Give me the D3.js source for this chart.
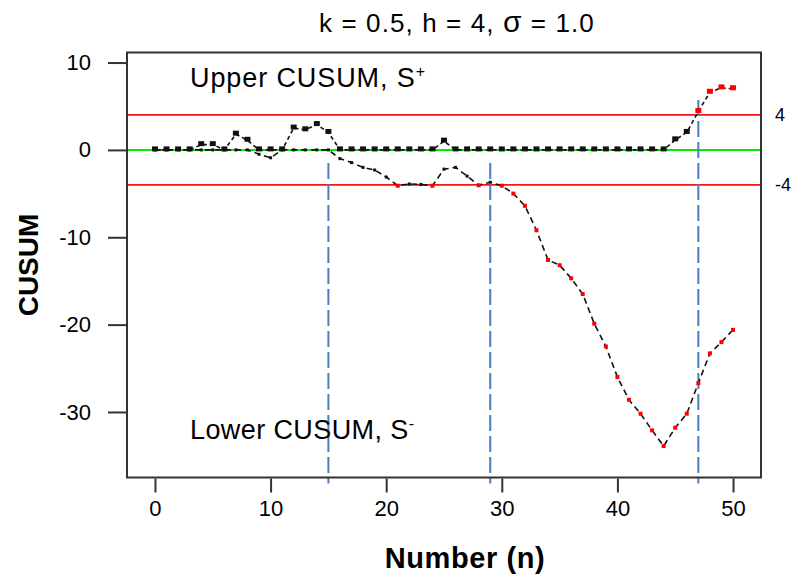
<!DOCTYPE html>
<html>
<head>
<meta charset="utf-8">
<script src="https://cdn.jsdelivr.net/npm/d3@7"></script>
<style>
  body { margin: 0; background: #fff; }
  text { font-family: "Liberation Sans", Arial, sans-serif; fill: #000; }
</style>
</head>
<body>
<div id="chart"></div>
<script>
// sample number n
const sample = [0,1,2,3,4,5,6,7,8,9,10,11,12,13,14,15,16,17,18,19,20,
  21,22,23,24,25,26,27,28,29,30,31,32,33,34,35,36,37,38,39,40,
  41,42,43,44,45,46,47,48,49,50]

// upper CUSUM S+
const upper = [0,0,0,0,0.6,0.6,0,1.8,1.1,0,0,0,2.5,2.3,2.9,2.0,0,0,0,0,0,
  0,0,0,0,1.0,0,0,0,0,0,0,0,0,0,0,0,0,0,0,0,
  0,0,0,0,1.15,2.0,4.4,6.6,7.1,7.0]

// lower CUSUM S- (plotted negative)
const lower = [0,0,0,0,0,0,0,0,0,-0.5,-0.9,0,0,0,0,0,-1.0,-1.45,-2.0,-2.3,-3.1,
  -4.1,-3.9,-3.95,-4.1,-2.2,-2.0,-3.0,-4.05,-3.7,-4.1,-5.0,-6.4,-9.2,-12.6,-13.2,-14.7,-16.5,-19.9,-22.5,-26.0,
  -28.6,-30.2,-32.1,-33.9,-31.8,-30.2,-26.7,-23.3,-22.0,-20.6]

const hLimit = 4
const xTicks = [0,10,20,30,40,50]
const yTicks = [10,0,-10,-20,-30]
// signal markers (n, top of line)
const signalN = [15,29,47]
const signalTop = [-1.5,-1.5,5.7]
const signalBottom = -38.2

const W = 791, H = 577
const margin = {top: 52.5, right: 30, bottom: 99.5, left: 127}
const width = W - margin.left - margin.right,
      height = H - margin.top - margin.bottom

const svg = d3.select("#chart").append("svg")
    .attr("width", W)
    .attr("height", H)

const g = svg.append("g")
    .attr("transform", "translate(" + margin.left + "," + margin.top + ")")

const x = d3.scaleLinear()
    .domain([-2.42, 52.42])
    .range([0, width])

const y = d3.scaleLinear()
    .domain([-37.5, 11.15])
    .range([height, 0])

// reference lines
g.selectAll(".hline")
  .data([hLimit, -hLimit])
  .enter().append("line")
    .attr("x1", 0).attr("x2", width)
    .attr("y1", d => y(d)).attr("y2", d => y(d))
    .attr("stroke", "#ff1010")
    .attr("stroke-width", 1.8)

g.append("line")
    .attr("x1", 0).attr("x2", width)
    .attr("y1", y(0)).attr("y2", y(0))
    .attr("stroke", "#00ee00")
    .attr("stroke-width", 2)

// signal lines
g.selectAll(".sig")
  .data(signalN)
  .enter().append("line")
    .attr("x1", d => x(d)).attr("x2", d => x(d))
    .attr("y1", (d, i) => y(signalTop[i]))
    .attr("y2", y(signalBottom))
    .attr("stroke", "#4a7ebb")
    .attr("stroke-width", 2)
    .attr("stroke-dasharray", "16,5")

const upperData = sample.map((n, i) => ({n: n, v: upper[i]}))
const lowerData = sample.map((n, i) => ({n: n, v: lower[i]}))

const line = d3.line()
    .x(d => x(d.n))
    .y(d => y(d.v))

// lower CUSUM
g.append("path")
    .datum(lowerData)
    .attr("fill", "none")
    .attr("stroke", "#111")
    .attr("stroke-width", 1.6)
    .attr("stroke-dasharray", "6,4")
    .attr("d", line)

g.selectAll(".lowpt")
  .data(lowerData)
  .enter().append("rect")
    .attr("x", d => x(d.n) - (d.v < -hLimit ? 2 : 1.5))
    .attr("y", d => y(d.v) - (d.v < -hLimit ? 2 : 1.5))
    .attr("width", d => d.v < -hLimit ? 4 : 3)
    .attr("height", d => d.v < -hLimit ? 4 : 3)
    .attr("fill", d => d.v < -hLimit ? "#ff0000" : "#111")

// upper CUSUM
g.append("path")
    .datum(upperData)
    .attr("fill", "none")
    .attr("stroke", "#111")
    .attr("stroke-width", 1.6)
    .attr("stroke-dasharray", "4,3")
    .attr("d", line)

g.selectAll(".uppt")
  .data(upperData)
  .enter().append("rect")
    .attr("x", d => x(d.n) - 3)
    .attr("y", d => y(d.v) - 3.5)
    .attr("width", 6)
    .attr("height", 5)
    .attr("fill", d => d.v > hLimit ? "#ff0000" : "#111")

// frame
g.append("rect")
    .attr("width", width)
    .attr("height", height)
    .attr("fill", "none")
    .attr("stroke", "#333")
    .attr("stroke-width", 2)

// axes
const xAxis = d3.axisBottom(x)
    .tickValues(xTicks)
    .tickFormat(d => String(d))
    .tickSize(14)
    .tickPadding(8)

const yAxis = d3.axisLeft(y)
    .tickValues(yTicks)
    .tickFormat(d => String(d))
    .tickSize(19)
    .tickPadding(17)

g.append("g")
    .attr("transform", `translate(0, ${height + 1})`)
    .call(xAxis)
    .call(a => a.select(".domain").remove())
    .call(a => a.selectAll("line").attr("stroke", "#333").attr("stroke-width", 2))
    .call(a => a.selectAll("text").attr("font-size", 22).attr("fill", "#222")
      .attr("font-family", "Liberation Sans, Arial, sans-serif"))

g.append("g")
    .call(yAxis)
    .call(a => a.select(".domain").remove())
    .call(a => a.selectAll("line").attr("stroke", "#333").attr("stroke-width", 2))
    .call(a => a.selectAll("text").attr("font-size", 22).attr("fill", "#222")
      .attr("font-family", "Liberation Sans, Arial, sans-serif"))

// right side limit labels
g.selectAll(".hlab")
  .data([hLimit, -hLimit])
  .enter().append("text")
    .attr("x", width + 14)
    .attr("y", d => y(d) + 6)
    .attr("font-size", 18)
    .text(d => String(d))

// title
const title = svg.append("text")
    .attr("x", 457)
    .attr("y", 32)
    .attr("text-anchor", "middle")
    .attr("font-size", 26)
    .attr("letter-spacing", 1.1)
title.append("tspan").text("k = 0.5, h = 4, ")
title.append("tspan").attr("font-size", 30).text("σ")
title.append("tspan").text(" = 1.0")

// annotations
const up = svg.append("text")
    .attr("x", 190).attr("y", 87)
    .attr("font-size", 27)
    .attr("letter-spacing", 0.9)
up.append("tspan").text("Upper CUSUM, S")
up.append("tspan").attr("font-size", 16).attr("dy", -10).text("+")

const lo = svg.append("text")
    .attr("x", 190).attr("y", 439)
    .attr("font-size", 27)
    .attr("letter-spacing", 0.4)
lo.append("tspan").text("Lower CUSUM, S")
lo.append("tspan").attr("font-size", 16).attr("dy", -10).text("-")

// axis titles
svg.append("text")
    .attr("x", 465)
    .attr("y", 568)
    .attr("text-anchor", "middle")
    .attr("font-size", 29)
    .attr("font-weight", "bold")
    .attr("letter-spacing", 0.6)
    .text("Number (n)")

svg.append("text")
    .attr("transform", "translate(38, 265) rotate(-90)")
    .attr("text-anchor", "middle")
    .attr("font-size", 28)
    .attr("font-weight", "bold")
    .text("CUSUM")
</script>
</body>
</html>
